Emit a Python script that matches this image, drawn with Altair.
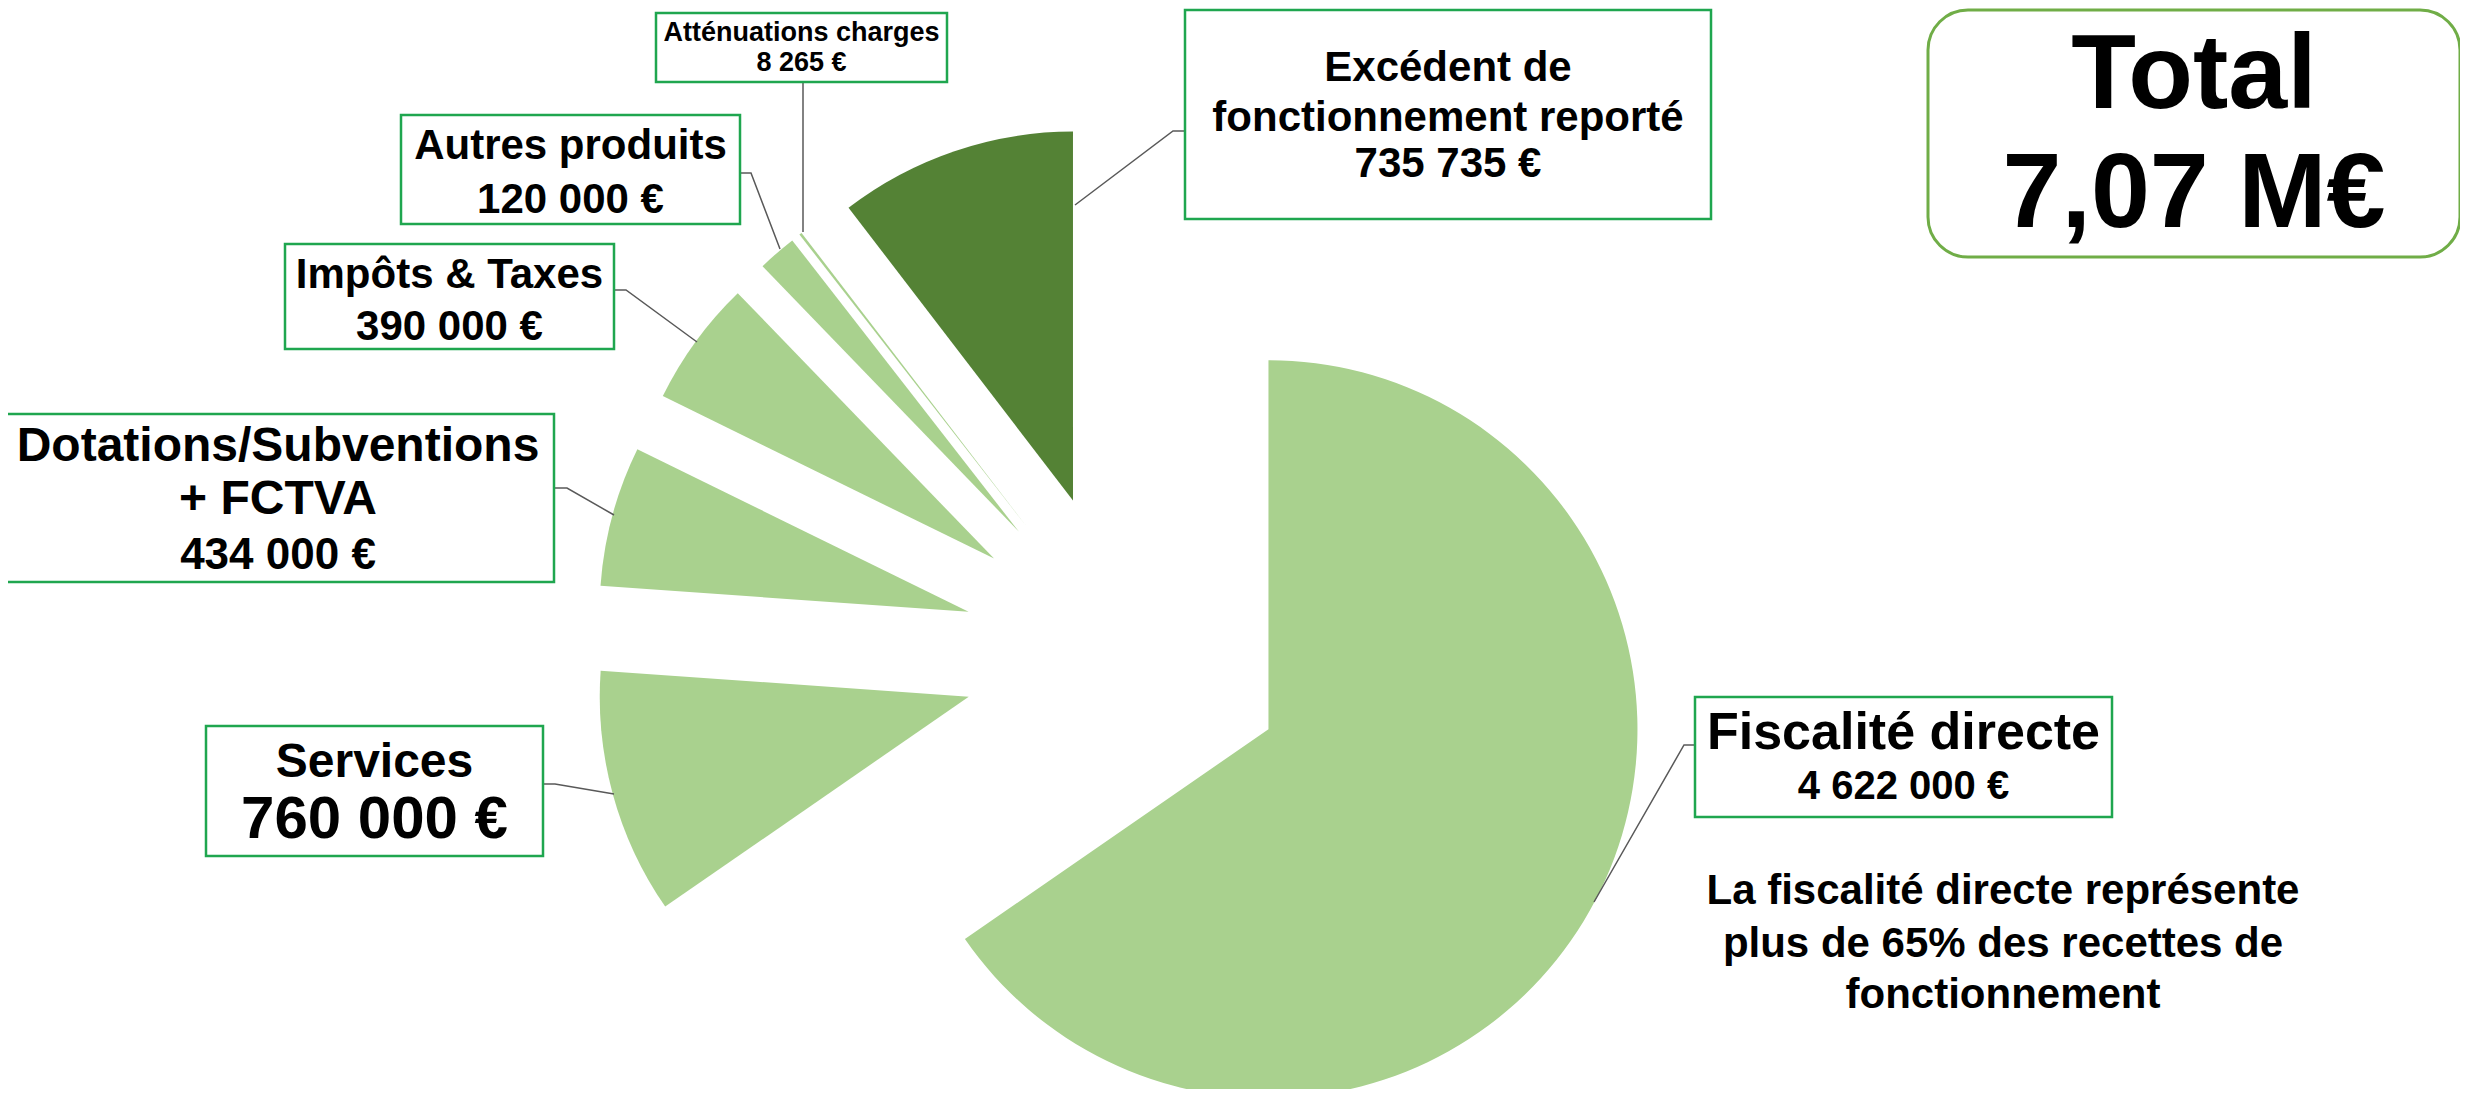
import altair as alt
import pandas as pd

# ---------------- data ----------------
categories = [
    "Fiscalité directe",
    "Services",
    "Dotations/Subventions + FCTVA",
    "Impôts & Taxes",
    "Autres produits",
    "Atténuations charges",
    "Excédent de fonctionnement reporté",
]
values = [4622000, 760000, 434000, 390000, 120000, 8265, 735735]
name_lines = [
    ["Fiscalité directe"],
    ["Services"],
    ["Dotations/Subventions", "+ FCTVA"],
    ["Impôts & Taxes"],
    ["Autres produits"],
    ["Atténuations charges"],
    ["Excédent de", "fonctionnement reporté"],
]
note_lines = ["La fiscalité directe représente", "plus de 65% des recettes de", "fonctionnement"]
total_title = "Total"

# ---------------- styles / layout ----------------
M = 8  # page margin
W, H = 2468 - 2 * M, 1097 - 2 * M
FONT = "Liberation Sans, Arial, sans-serif"
slice_colors = ["#A9D18E"] * 6 + ["#548235"]
CX, CY = 1125 - M, 654 - M
RADIUS = 369
EXPLODE = 162
BOX_GREEN = "#1FA64F"
TOTAL_GREEN = "#70AD47"
LEADER = "#595959"

# label boxes (page px): x0, y0, x1, y1
boxes = [
    (1695, 697, 2112, 817),
    (206, 726, 543, 856),
    (2, 414, 554, 582),
    (285, 244, 614, 349),
    (401, 115, 740, 224),
    (656, 13, 947, 82),
    (1185, 10, 1711, 219),
]
# line centres (page px) for name lines then value line, and font sizes
line_ys = [
    [733, 787],
    [763, 820],
    [447, 500, 556],
    [275, 327],
    [146, 200],
    [33, 63],
    [68, 118, 164],
]
name_sizes = [52, 48, 48, 42, 42, 27, 42]
value_sizes = [40, 60, 44, 42, 42, 27, 42]
leaders = [
    [(1594, 902), (1684, 745), (1695, 745)],
    [(614, 794), (555, 784), (543, 784)],
    [(614, 515), (567, 488), (554, 488)],
    [(697, 342), (626, 290), (614, 290)],
    [(780, 249), (751, 173), (740, 173)],
    [(803, 232), (803, 82)],
    [(1075, 205), (1173, 131), (1185, 131)],
]
note_x, note_ys, note_size = 2003, [891, 944, 995], 42
total_box = (1928, 10, 2460, 257)
total_ys, total_size = [76, 195], 106


def euro(v):
    return f"{v:,}".replace(",", " ") + " €"


# ---------------- pie ----------------
pie_df = pd.DataFrame({"category": categories, "value": values, "order": list(range(len(values)))})

arcs = (
    alt.Chart(pie_df)
    .transform_window(cum="sum(value)", sort=[alt.SortField("order")], frame=[None, 0])
    .transform_joinaggregate(total="sum(value)")
    .transform_calculate(a0="2*PI*(datum.cum - datum.value)/datum.total")
    .transform_calculate(a1="2*PI*datum.cum/datum.total")
    .transform_calculate(mid="(datum.a0 + datum.a1)/2")
    .transform_calculate(cx=f"{CX} + {EXPLODE}*sin(datum.mid)")
    .transform_calculate(cy=f"{CY} - {EXPLODE}*cos(datum.mid)")
    .mark_arc(radius=RADIUS, stroke=None)
    .encode(
        theta=alt.Theta("a0:Q", scale=None, stack=None),
        theta2="a1:Q",
        x=alt.X("cx:Q", scale=None, axis=None),
        y=alt.Y("cy:Q", scale=None, axis=None),
        color=alt.Color("category:N", scale=alt.Scale(domain=categories, range=slice_colors), legend=None),
        order=alt.Order("order:Q"),
    )
)

# ---------------- leaders ----------------
lead_rows = []
for i, pts in enumerate(leaders):
    for j, (px, py) in enumerate(pts):
        lead_rows.append({"id": i, "k": j, "x": px - M, "y": py - M})
lead = (
    alt.Chart(pd.DataFrame(lead_rows))
    .mark_line(color=LEADER, strokeWidth=1.5)
    .encode(
        x=alt.X("x:Q", scale=None),
        y=alt.Y("y:Q", scale=None),
        detail="id:N",
        order="k:Q",
    )
)

# ---------------- boxes ----------------
box_df = pd.DataFrame(
    [{"x": b[0] - M, "y": b[1] - M, "x2": b[2] - M, "y2": b[3] - M} for b in boxes]
)
box = (
    alt.Chart(box_df)
    .mark_rect(fill="white", stroke=BOX_GREEN, strokeWidth=2.5)
    .encode(
        x=alt.X("x:Q", scale=None),
        x2="x2:Q",
        y=alt.Y("y:Q", scale=None),
        y2="y2:Q",
    )
)
tb = total_box
tot_box = (
    alt.Chart(pd.DataFrame([{"x": tb[0] - M, "y": tb[1] - M, "x2": tb[2] - M, "y2": tb[3] - M}]))
    .mark_rect(fill="white", stroke=TOTAL_GREEN, strokeWidth=3, cornerRadius=40)
    .encode(
        x=alt.X("x:Q", scale=None),
        x2="x2:Q",
        y=alt.Y("y:Q", scale=None),
        y2="y2:Q",
    )
)

# ---------------- texts ----------------
txt_rows = []
for i, cat in enumerate(categories):
    b = boxes[i]
    xc = (b[0] + b[2]) / 2 - M
    lines = name_lines[i] + [euro(values[i])]
    sizes = [name_sizes[i]] * len(name_lines[i]) + [value_sizes[i]]
    for ln, yy, fs in zip(lines, line_ys[i], sizes):
        txt_rows.append({"x": xc, "y": yy - M, "t": ln, "fs": fs})
for ln, yy in zip(note_lines, note_ys):
    txt_rows.append({"x": note_x - M, "y": yy - M, "t": ln, "fs": note_size})
total_val = f"{sum(values) / 1e6:.2f}".replace(".", ",") + " M€"
for ln, yy in zip([total_title, total_val], total_ys):
    txt_rows.append({"x": (tb[0] + tb[2]) / 2 - M, "y": yy - M, "t": ln, "fs": total_size})

texts = (
    alt.Chart(pd.DataFrame(txt_rows))
    .mark_text(font=FONT, fontWeight="bold", color="black", align="center", baseline="middle")
    .encode(
        x=alt.X("x:Q", scale=None),
        y=alt.Y("y:Q", scale=None),
        text="t:N",
        size=alt.Size("fs:Q", scale=None, legend=None),
    )
)

chart = (
    alt.layer(arcs, lead, box, tot_box, texts)
    .properties(width=W, height=H, padding=0, autosize=alt.AutoSizeParams(type="none"))
    .configure_view(stroke=None)
)
chart.save("out.html", embed_options={"renderer": "svg", "actions": False})
